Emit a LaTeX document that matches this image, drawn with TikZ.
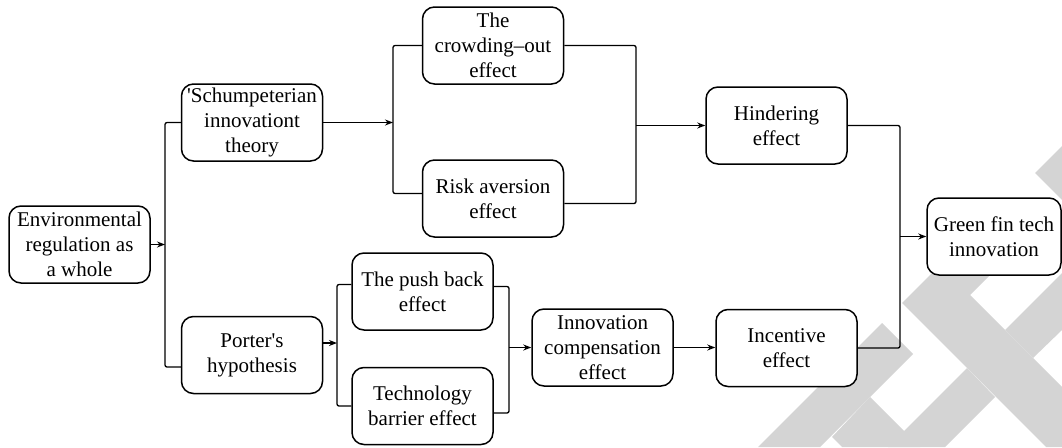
\documentclass[tikz,border=0pt]{standalone}
\usepackage{fontspec}
\setmainfont{Liberation Serif}
\usetikzlibrary{arrows.meta}
\definecolor{wmark}{RGB}{212,212,212}
\tikzset{
  box/.style={draw, line width=1.5pt, rounded corners=12pt, fill=white,
    minimum width=141pt, minimum height=77pt, inner sep=1pt, align=center,
    font=\fontsize{21}{25}\selectfont},
  link/.style={line width=1.3pt, rounded corners=2pt},
  arr/.style={line width=1.3pt, -{Stealth[length=8pt,width=6pt]}}
}
\begin{document}
\begin{tikzpicture}[x=1pt,y=-1pt]
\useasboundingbox (0,0) rectangle (1062,447);
% watermark
\fill[wmark] (758,447) -- (882,323) -- (913,354) -- (820,447) -- cycle;
\fill[wmark] (870,397) -- (920,447) -- (842,447) -- (832,437) -- cycle;
\fill[wmark] (935,270) -- (902,303) -- (1046,447) -- (1062,447) -- (1062,387) -- (970,295) -- (995,270) -- cycle;
\fill[wmark] (1005,330) -- (1062,273) -- (1062,330) -- (1033,358) -- cycle;
\fill[wmark] (967,368) -- (995,397) -- (945,447) -- (888,447) -- cycle;
\fill[wmark] (1062,146) -- (1035,173) -- (1062,200) -- cycle;

\node[box] (env) at (79.5,244.5) {Environmental\\regulation as\\a whole};
\node[box] (schump) at (252,122.5) {\textquotesingle Schumpeterian\\innovationt\\theory};
\node[box] (porter) at (252,355) {Porter\textquotesingle s\\hypothesis};
\node[box] (crowd) at (493,45.5) {The\\crowding--out\\effect};
\node[box] (risk) at (493,198.5) {Risk aversion\\effect};
\node[box] (push) at (422.5,291.5) {The push back\\effect};
\node[box] (tech) at (422.5,406) {Technology\\barrier effect};
\node[box] (innov) at (602.5,347.5) {Innovation\\compensation\\effect};
\node[box] (hinder) at (776.5,125.5) {Hindering\\effect};
\node[box] (incent) at (786.5,348) {Incentive\\effect};
\node[box, minimum width=134pt] (green) at (994,236.5) {Green fin tech\\innovation};

% junction lines
\coordinate (jenv) at (165,0);
\coordinate (jschump) at (393,0);
\coordinate (jcrowd) at (636,0);
\coordinate (jporter) at (337,0);
\coordinate (jpush) at (509,0);
\coordinate (jgreen) at (900,0);

\draw[link] (schump.west) -- (schump.west -| jenv) -- ([yshift=-12pt]porter.west -| jenv) -- ([yshift=-12pt]porter.west);
\draw[arr] (env.east) -- (env.east -| jenv);

\draw[link] (crowd.west) -- (crowd.west -| jschump) -- ([yshift=5pt]risk.west -| jschump) -- ([yshift=5pt]risk.west);
\draw[arr] (schump.east) -- (schump.east -| jschump);

\draw[link] (crowd.east) -- (crowd.east -| jcrowd) -- ([yshift=-5pt]risk.east -| jcrowd) -- ([yshift=-5pt]risk.east);
\draw[arr] (hinder.west -| jcrowd) -- (hinder.west);

\draw[link] ([yshift=7pt]push.west) -- ([yshift=7pt]push.west -| jporter) -- (tech.west -| jporter) -- (tech.west);
\draw[arr] ([yshift=12pt]porter.east) -- ([yshift=12pt]porter.east -| jporter);

\draw[link] ([yshift=5pt]push.east) -- ([yshift=5pt]push.east -| jpush) -- ([yshift=-7pt]tech.east -| jpush) -- ([yshift=-7pt]tech.east);
\draw[arr] (innov.west -| jpush) -- (innov.west);

\draw[arr] (innov.east) -- (innov.east -| incent.west);

\draw[link] (hinder.east) -- (hinder.east -| jgreen) -- (incent.east -| jgreen) -- (incent.east);
\draw[arr] (green.west -| jgreen) -- (green.west);
\end{tikzpicture}
\end{document}
